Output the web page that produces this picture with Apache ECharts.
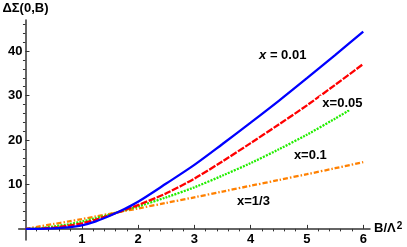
<!DOCTYPE html>
<html>
<head>
<meta charset="utf-8">
<script src="https://cdn.jsdelivr.net/npm/echarts@6/dist/echarts.min.js"></script>
<style>
html,body{margin:0;padding:0;background:#fff;}
#c{width:407px;height:247px;}
</style>
</head>
<body>
<div id="c"></div>
<script>
// ---- data ----
var bValues = [0, 0.25, 0.5, 0.75, 1, 1.25, 1.5, 1.75, 2, 2.5, 3, 3.5, 4, 4.5, 5, 5.5, 6];
var bGreen  = [0, 0.25, 0.5, 0.75, 1, 1.25, 1.5, 1.75, 2, 2.5, 3, 3.5, 4, 4.5, 5, 5.5, 5.75];
var seriesX001 = [0, 0.0, 0.1, 0.35, 0.8, 1.7, 2.95, 4.4, 6.1, 10.2, 14.4, 19.1, 23.9, 28.8, 33.9, 39.1, 44.4];
var seriesX005 = [0, 0.05, 0.3, 0.7, 1.25, 2.1, 3.1, 4.2, 5.35, 8.0, 11.3, 15.2, 19.3, 23.5, 27.8, 32.4, 37.1];
var seriesX01  = [0, 0.15, 0.55, 1.0, 1.65, 2.4, 3.25, 4.15, 5.05, 7.1, 9.35, 12.0, 14.8, 17.9, 21.2, 24.8, 26.7];
var seriesX13  = [0, 0.55, 1.1, 1.65, 2.2, 2.8, 3.4, 4.0, 4.6, 5.85, 7.1, 8.4, 9.7, 11.0, 12.3, 13.65, 15.0];
var xTickLabels = [1, 2, 3, 4, 5, 6];
var yTickLabels = [10, 20, 30, 40];
var xMinorTicks = [0.2,0.4,0.6,0.8,1.2,1.4,1.6,1.8,2.2,2.4,2.6,2.8,3.2,3.4,3.6,3.8,4.2,4.4,4.6,4.8,5.2,5.4,5.6,5.8];
var yMinorTicks = [2,4,6,8,12,14,16,18,22,24,26,28,32,34,36,38,42,44,46];
var curveNames = ['x = 0.01', 'x=0.05', 'x=0.1', 'x=1/3'];
var labelAnchors = [[4.57, 39.2], [5.63, 28.4], [5.06, 16.7], [4.05, 6.3]];

function pairs(xs, ys) { return xs.map(function (x, i) { return [x, ys[i]]; }); }

var FONT = 'Liberation Sans, Arial, sans-serif';
var axisCol = '#333';
var labelStyle = { color: '#000', fontWeight: 'bold', fontSize: 13, fontFamily: FONT };

var chart = echarts.init(document.getElementById('c'), null, { renderer: 'canvas' });

function mkSeries(name, xs, ys, color, dash) {
  return {
    name: name, type: 'line', data: pairs(xs, ys), smooth: 0.3, symbol: 'none',
    xAxisIndex: 0, yAxisIndex: 0,
    lineStyle: { color: color, width: 2.3, type: dash, cap: 'butt' }, z: 3
  };
}

var option = {
  animation: false,
  backgroundColor: '#fff',
  grid: { left: 18.7, right: 37, top: 20, bottom: 7, containLabel: false, outerBoundsMode: 'none' },
  xAxis: [
    {
      type: 'value', min: -0.12, max: 6.12,
      name: 'B/Λ{s|2}', nameLocation: 'end', nameGap: 4,
      nameTextStyle: { color: '#000', fontWeight: 'bold', fontSize: 13, fontFamily: FONT, verticalAlign: 'middle', align: 'left',
        rich: { s: { fontSize: 10, fontWeight: 'bold', fontFamily: FONT, color: '#000', verticalAlign: 'top', padding: [0, 0, 6, 1] } } },
      axisLine: { show: true, onZero: true, onZeroAxisIndex: 0, lineStyle: { color: axisCol, width: 1.5 } },
      axisTick: { show: true, inside: true, length: 4, customValues: xTickLabels, lineStyle: { color: axisCol, width: 1 } },
      axisLabel: Object.assign({ show: true, margin: -7, customValues: xTickLabels }, labelStyle),
      splitLine: { show: false }
    },
    {
      type: 'value', min: -0.12, max: 6.12,
      axisLine: { show: false, onZero: true, onZeroAxisIndex: 0 },
      axisTick: { show: true, inside: true, length: 2.5, customValues: xMinorTicks, lineStyle: { color: axisCol, width: 1 } },
      axisLabel: { show: false },
      splitLine: { show: false }
    }
  ],
  yAxis: [
    {
      type: 'value', min: -2.5, max: 47,
      name: 'ΔΣ(0,B)', nameLocation: 'end', nameGap: 5,
      nameTextStyle: { color: '#000', fontWeight: 'bold', fontSize: 13, fontFamily: FONT, align: 'center' },
      axisLine: { show: true, onZero: true, onZeroAxisIndex: 0, lineStyle: { color: axisCol, width: 1.5 } },
      axisTick: { show: true, inside: true, length: 4, customValues: yTickLabels, lineStyle: { color: axisCol, width: 1 } },
      axisLabel: Object.assign({ show: true, margin: -3.8, customValues: yTickLabels }, labelStyle),
      splitLine: { show: false }
    },
    {
      type: 'value', min: -2.5, max: 47,
      axisLine: { show: false, onZero: true, onZeroAxisIndex: 0 },
      axisTick: { show: true, inside: true, length: 2.5, customValues: yMinorTicks, lineStyle: { color: axisCol, width: 1 } },
      axisLabel: { show: false },
      splitLine: { show: false }
    }
  ],
  series: [
    mkSeries(curveNames[3], bValues, seriesX13, '#ff8000', [5, 2, 1.5, 2]),
    mkSeries(curveNames[2], bGreen, seriesX01, '#22ee00', [2, 1.2]),
    mkSeries(curveNames[1], bValues, seriesX005, '#ff0000', [7, 1.5]),
    mkSeries(curveNames[0], bValues, seriesX001, '#0000ff', 'solid')
  ]
};
chart.setOption(option);

var graphics = labelAnchors.map(function (a, i) {
  var p = chart.convertToPixel({ xAxisIndex: 0, yAxisIndex: 0 }, a);
  var txt = i === 0 ? '{i|x} = 0.01' : curveNames[i];
  return {
    type: 'text', x: p[0], y: p[1], z: 100,
    style: {
      text: txt, fill: '#000', font: 'bold 13px ' + FONT,
      align: 'center', verticalAlign: 'middle',
      backgroundColor: '#fff', padding: [1, 3, 0, 3],
      rich: { i: { fontStyle: 'italic', fontWeight: 'bold', fontSize: 13, fontFamily: FONT, fill: '#000' } }
    }
  };
});
chart.setOption({ graphic: graphics });
</script>
</body>
</html>
